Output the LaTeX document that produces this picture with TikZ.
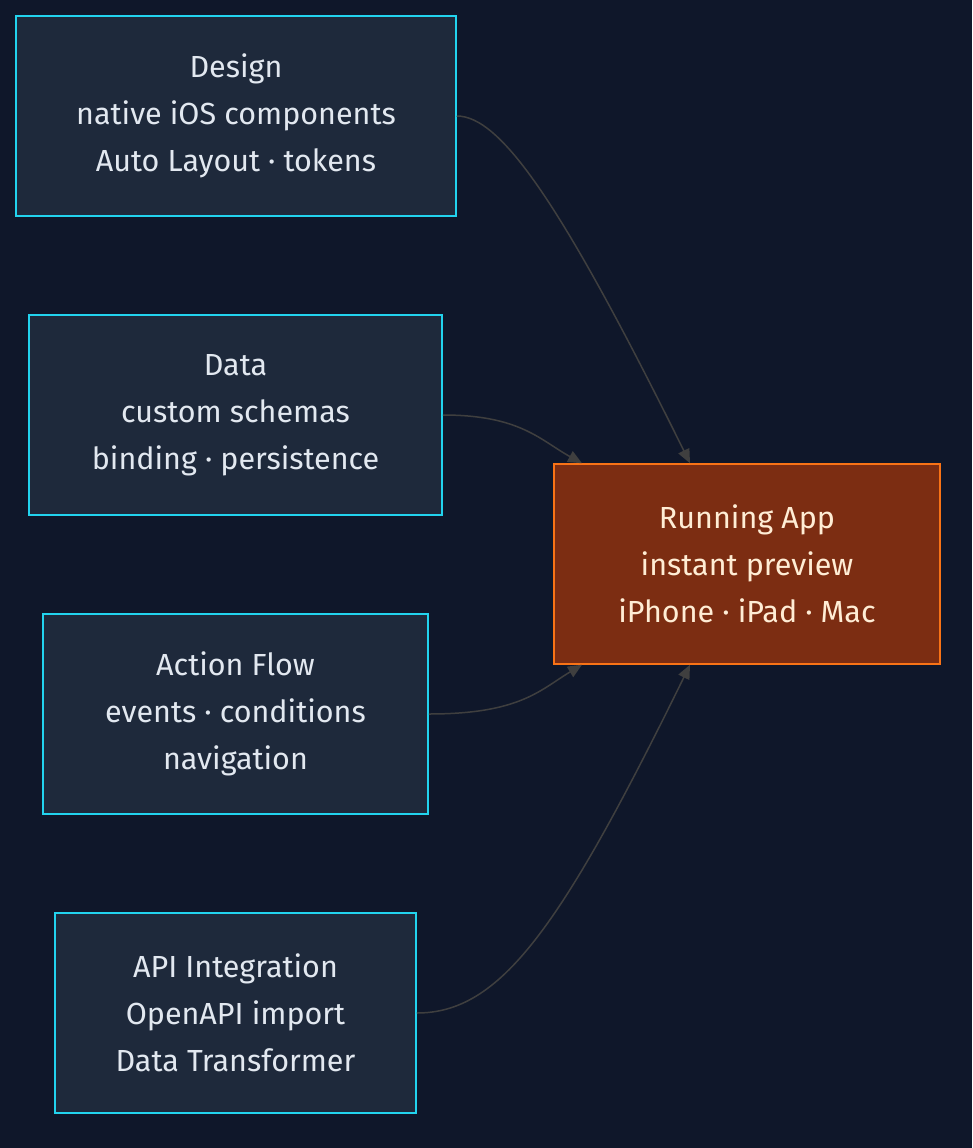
\documentclass[tikz,border=0pt]{standalone}
\usepackage{fontspec}
\setmainfont{Fira Sans}
\usetikzlibrary{arrows.meta}
\definecolor{bgnavy}{HTML}{0F172A}
\definecolor{boxfill}{HTML}{1E293B}
\definecolor{boxline}{HTML}{22D3EE}
\definecolor{appfill}{HTML}{7C2D12}
\definecolor{appline}{HTML}{F97316}
\definecolor{apptext}{HTML}{FFEDD5}
\definecolor{txt}{HTML}{E2E8F0}
\definecolor{edge}{HTML}{3F3F3F}
\begin{document}
\begin{tikzpicture}
[
x=1pt,y=-1pt,
stage/.style 2 args={draw=boxline,fill=boxfill,line width=1.5pt,text=txt,align=center,
  minimum width=#1,minimum height=#2,inner sep=0pt,
  font=\fontsize{30.5}{47}\selectfont},
app/.style={stage={386pt}{200pt},draw=appline,fill=appfill,text=apptext},
flow/.style={draw=edge,line width=1.5pt,-{Triangle[length=14pt,width=12pt]}},
]
\fill[bgnavy] (0,0) rectangle (972,1148);
\useasboundingbox (0,0) rectangle (972,1148);

%Place the nodes
\node[stage={440pt}{200pt}] (design) at (236,116) {Design\\native iOS components\\Auto Layout · tokens};
\node[stage={413pt}{200pt}] (data) at (235.5,415) {Data\\custom schemas\\binding · persistence};
\node[stage={385pt}{200pt}] (action) at (235.5,714) {Action Flow\\events · conditions\\navigation};
\node[stage={361pt}{200pt}] (api) at (235.5,1013) {API Integration\\OpenAPI import\\Data Transformer};
\node[app] (run) at (747,564) {Running App\\instant preview\\iPhone · iPad · Mac};

%Draw the connections
\draw[flow] (design.east) .. controls (500,116) and (560,200) .. ([xshift=-57pt]run.north);
\draw[flow] (data.east) .. controls (520,415) and (540,440) .. ([xshift=-165pt]run.north);
\draw[flow] (action.east) .. controls (520,714) and (540,690) .. ([xshift=-165pt]run.south);
\draw[flow] (api.east) .. controls (500,1013) and (560,930) .. ([xshift=-57pt]run.south);
\end{tikzpicture}
\end{document}
